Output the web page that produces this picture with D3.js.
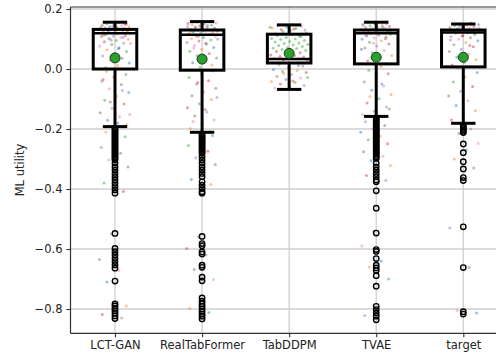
<!DOCTYPE html>
<html><head><meta charset="utf-8">
<script src="https://cdn.jsdelivr.net/npm/d3@7"></script>
<style>
html,body{margin:0;padding:0;background:#fff;}
svg{display:block;font-family:"DejaVu Sans",sans-serif;}
</style></head>
<body><svg id="chart" width="496" height="358"></svg>
<script>
// ---- data ----
const categories = ["LCT-GAN", "RealTabFormer", "TabDDPM", "TVAE", "target"];
const yTicks = [0.2, 0.0, -0.2, -0.4, -0.6, -0.8];
const yLabel = "ML utility";

// box statistics
const q1      = [0.000, -0.004, 0.020, 0.017, 0.007];
const median  = [0.119, 0.114, 0.033, 0.119, 0.122];
const q3      = [0.132, 0.130, 0.116, 0.130, 0.130];
const whiskLo = [-0.192, -0.211, -0.068, -0.158, -0.181];
const whiskHi = [0.156, 0.158, 0.147, 0.156, 0.150];
const means   = [0.037, 0.033, 0.052, 0.039, 0.039];

// outliers (open circles)
const fliersLCTGAN = [-0.198,-0.203,-0.208,-0.213,-0.218,-0.223,-0.228,-0.233,-0.238,-0.243,-0.248,-0.253,-0.258,-0.263,-0.268,-0.273,-0.278,-0.283,-0.288,-0.293,-0.298,-0.303,
  -0.314,-0.326,-0.337,-0.348,-0.359,-0.370,-0.381,-0.392,-0.403,-0.414,
  -0.548,-0.598,-0.609,-0.620,-0.631,-0.642,-0.653,-0.664,-0.707,-0.783,-0.790,-0.798,-0.806,-0.814,-0.823,-0.832];
const fliersRealTabFormer = [-0.216,-0.221,-0.226,-0.231,-0.236,-0.241,-0.246,-0.251,-0.256,-0.261,-0.266,-0.271,-0.276,-0.281,
  -0.292,-0.303,-0.314,-0.326,-0.337,-0.348,-0.359,-0.376,-0.387,-0.398,-0.409,-0.414,
  -0.558,-0.582,-0.589,-0.610,-0.617,-0.654,-0.661,-0.694,-0.706,-0.763,-0.774,-0.783,-0.791,-0.800,-0.808,-0.817,-0.824,-0.833];
const fliersTabDDPM = [];
const fliersTVAE = [-0.163,-0.168,-0.173,-0.178,-0.183,-0.188,-0.193,-0.198,-0.203,-0.208,-0.213,-0.218,-0.223,-0.228,-0.233,-0.238,-0.243,-0.248,-0.253,-0.258,-0.263,-0.268,-0.273,-0.278,-0.283,-0.288,-0.293,-0.298,
  -0.314,-0.326,-0.337,-0.348,-0.359,-0.370,-0.376,-0.406,-0.464,
  -0.547,-0.602,-0.608,-0.632,-0.654,-0.663,-0.672,-0.689,-0.724,-0.791,-0.802,-0.813,-0.824,-0.836];
const fliersTarget = [-0.188,-0.193,-0.198,-0.203,-0.208,-0.212,-0.250,-0.279,-0.309,-0.333,-0.362,-0.372,-0.526,-0.662,-0.809,-0.817];

// individual results (small coloured dots)
const dotsLCTGAN = [0.155,0.151,0.149,0.147,0.146,0.144,0.142,0.141,0.139,0.137,0.136,0.134,0.133,0.131,0.129,0.128,0.126,0.124,0.122,0.121,0.119,0.117,0.115,0.112,0.110,0.108,0.105,0.102,0.099,0.095,0.091,0.087,0.082,0.076,0.071,0.064,0.058,0.051,0.043,0.036,0.028,0.020,0.012,0.004,
  0.150,0.143,0.138,0.132,0.127,0.123,0.118,0.113,0.106,0.097,0.085,0.068,
  -0.008,-0.018,-0.027,-0.041,-0.052,-0.066,-0.078,-0.091,-0.104,-0.117,-0.131,-0.146,-0.159,-0.171,-0.186,-0.197,
  -0.035,-0.072,-0.110,-0.152,-0.180,
  -0.210,-0.226,-0.243,-0.262,-0.281,-0.303,-0.327,-0.352,-0.380,-0.408,-0.550,-0.635,-0.672,-0.710,-0.790,-0.804,-0.818,-0.830];
const dotsRealTabFormer = [0.157,0.153,0.150,0.148,0.146,0.143,0.141,0.139,0.138,0.136,0.134,0.132,0.130,0.128,0.127,0.125,0.123,0.121,0.119,0.117,0.114,0.111,0.108,0.105,0.101,0.097,0.093,0.088,0.083,0.078,0.072,0.066,0.059,0.052,0.045,0.037,0.029,0.021,0.013,0.005,
  0.152,0.145,0.140,0.135,0.129,0.124,0.116,0.109,0.099,0.086,0.070,
  -0.006,-0.016,-0.028,-0.039,-0.051,-0.064,-0.077,-0.089,-0.102,-0.116,-0.129,-0.143,-0.157,-0.170,-0.184,-0.198,-0.209,
  -0.045,-0.095,-0.135,-0.175,
  -0.222,-0.238,-0.255,-0.274,-0.296,-0.318,-0.343,-0.368,-0.385,-0.560,-0.598,-0.620,-0.668,-0.702,-0.772,-0.798,-0.812];
const dotsTabDDPMgreen = [0.125,0.120,0.115,0.112,0.108,0.105,0.102,0.100,0.098,0.095,0.092,0.090,0.087,0.085,0.082,0.080,0.078,0.075,0.072,0.070,0.068,0.065,0.062,0.060];
const dotsTabDDPMred = [0.058,0.054,0.050,0.047,0.045,0.042,0.040,0.038,0.035,0.033,0.030,0.027];
const dotsTabDDPMmixed = [0.148,0.145,0.142,0.140,0.137,0.135,0.132,0.130,0.128,0.118,0.110,0.146,0.139,0.133];
const dotsTabDDPMlow = [0.015,0.010,0.005,-0.002,-0.005,-0.008,-0.012,-0.018,-0.025,-0.030,-0.035,-0.042,-0.045,-0.050,-0.055,-0.060,-0.063,0.012,-0.015,-0.028,-0.040];
const dotsTVAE = [0.156,0.152,0.150,0.148,0.146,0.144,0.142,0.140,0.138,0.136,0.134,0.132,0.130,0.128,0.126,0.124,0.122,0.120,0.118,0.116,0.113,0.110,0.107,0.103,0.099,0.094,0.089,0.083,0.077,0.070,0.062,0.054,0.045,0.036,0.027,0.018,
  0.151,0.145,0.139,0.133,0.127,0.121,0.112,0.101,0.086,0.066,
  0.008,-0.004,-0.016,-0.029,-0.043,-0.057,-0.071,-0.085,-0.099,-0.113,-0.127,-0.141,-0.152,
  -0.050,-0.092,-0.133,
  -0.165,-0.176,-0.188,-0.199,-0.211,-0.223,-0.236,-0.249,-0.262,-0.276,-0.291,-0.306,-0.322,-0.338,-0.355,-0.372,
  -0.540,-0.590,-0.640,-0.660,-0.700,-0.800,-0.822];
const dotsTarget = [0.153,0.150,0.148,0.146,0.144,0.142,0.140,0.138,0.136,0.134,0.132,0.130,0.128,0.126,0.124,0.122,0.120,0.118,0.115,0.112,0.108,0.104,0.099,0.094,0.088,0.081,0.074,0.066,0.058,0.049,0.040,0.031,0.022,0.013,
  0.149,0.143,0.137,0.131,0.125,0.119,0.110,0.097,0.078,
  0.002,-0.012,-0.027,-0.043,-0.058,-0.074,-0.090,-0.106,-0.122,-0.138,-0.154,-0.170,
  -0.200,-0.215,-0.248,-0.270,-0.300,-0.330,-0.362,-0.530,-0.662,-0.805,-0.813,-0.820];

const fliers = [fliersLCTGAN, fliersRealTabFormer, fliersTabDDPM, fliersTVAE, fliersTarget];
const tab10 = ["#1f77b4","#ff7f0e","#2ca02c","#d62728","#9467bd","#8c564b","#e377c2","#7f7f7f","#bcbd22","#17becf"];

// dot groups: [categoryIndex, values, colour or null (cycle)]
const dotGroups = [
  [0, dotsLCTGAN, null],
  [1, dotsRealTabFormer, null],
  [2, dotsTabDDPMgreen, "#2ca02c"],
  [2, dotsTabDDPMred, "#d62728"],
  [2, dotsTabDDPMmixed, null],
  [2, dotsTabDDPMlow, null],
  [3, dotsTVAE, null],
  [4, dotsTarget, null]
];

// ---- layout ----
const svg = d3.select("#chart");
const plot = {left: 70.5, top: 7, bottom: 333.3, right: 520};
const x = d3.scaleLinear().domain([1, 5]).range([115, 463.3]);
const y = d3.scaleLinear().domain([-0.8, 0.2]).range([309, 9]);
const unit = x(2) - x(1);
const boxW = 0.5 * unit, capW = 0.28 * unit;
const fontSize = 11.5;

// grid
const grid = svg.append("g");
grid.selectAll("line.h").data(yTicks).join("line")
  .attr("x1", plot.left).attr("x2", plot.right)
  .attr("y1", d => y(d)).attr("y2", d => y(d))
  .attr("stroke", "#cfcfcf").attr("stroke-width", 1.3);
grid.selectAll("line.v").data(categories).join("line")
  .attr("x1", (d, i) => x(i + 1)).attr("x2", (d, i) => x(i + 1))
  .attr("y1", plot.top).attr("y2", plot.bottom)
  .attr("stroke", "#cfcfcf").attr("stroke-width", 1.3);

// dots
const dotLayer = svg.append("g");
let k = 0;
dotGroups.forEach(([ci, vals, col]) => {
  const spread = ci === 2 ? 0.22 : 0.18;
  vals.forEach((v, i) => {
    k++;
    const frac = ((k * 0.6180339887) % 1) - 0.5;
    dotLayer.append("circle")
      .attr("cx", x(ci + 1 + frac * 2 * spread))
      .attr("cy", y(v))
      .attr("r", 1.5)
      .attr("fill", col || tab10[k % 7])
      .attr("opacity", 0.45);
  });
});

// boxes
const boxes = svg.append("g");
categories.forEach((c, i) => {
  const cx = x(i + 1);
  const g = boxes.append("g");
  g.append("line").attr("x1", cx).attr("x2", cx).attr("y1", y(q1[i])).attr("y2", y(whiskLo[i]))
    .attr("stroke", "#000").attr("stroke-width", 3);
  g.append("line").attr("x1", cx).attr("x2", cx).attr("y1", y(q3[i])).attr("y2", y(whiskHi[i]))
    .attr("stroke", "#000").attr("stroke-width", 3);
  [whiskLo[i], whiskHi[i]].forEach(v => {
    g.append("line").attr("x1", cx - capW / 2).attr("x2", cx + capW / 2)
      .attr("y1", y(v)).attr("y2", y(v)).attr("stroke", "#000").attr("stroke-width", 3);
  });
  g.append("rect").attr("x", cx - boxW / 2).attr("width", boxW)
    .attr("y", y(q3[i])).attr("height", y(q1[i]) - y(q3[i]))
    .attr("fill", "none").attr("stroke", "#000").attr("stroke-width", 3);
  g.append("line").attr("x1", cx - boxW / 2).attr("x2", cx + boxW / 2)
    .attr("y1", y(median[i])).attr("y2", y(median[i]))
    .attr("stroke", "#000").attr("stroke-width", 2.5);
  g.selectAll("circle.fl").data(fliers[i]).join("circle")
    .attr("cx", cx).attr("cy", d => y(d)).attr("r", 2.7)
    .attr("fill", "none").attr("stroke", "#000").attr("stroke-width", 1.4);
  g.append("circle").attr("cx", cx).attr("cy", y(means[i])).attr("r", 5)
    .attr("fill", "#2ca02c").attr("stroke", "#1b3d1b").attr("stroke-width", 1);
});

// spines
svg.append("line").attr("x1", plot.left).attr("x2", plot.left).attr("y1", plot.top).attr("y2", plot.bottom)
  .attr("stroke", "#333").attr("stroke-width", 1.2);
svg.append("line").attr("x1", plot.left).attr("x2", plot.right).attr("y1", plot.bottom).attr("y2", plot.bottom)
  .attr("stroke", "#333").attr("stroke-width", 1.2);
svg.append("line").attr("x1", plot.left).attr("x2", plot.right).attr("y1", plot.top).attr("y2", plot.top)
  .attr("stroke", "#333").attr("stroke-width", 1.2);

// axes
const yAxis = svg.append("g").attr("transform", `translate(${plot.left},0)`)
  .call(d3.axisLeft(y).tickValues(yTicks).tickFormat(d3.format(".1f")).tickSize(4).tickPadding(4));
const xAxis = svg.append("g").attr("transform", `translate(0,${plot.bottom})`)
  .call(d3.axisBottom(x).tickValues([1, 2, 3, 4, 5]).tickFormat(d => categories[d - 1]).tickSize(4).tickPadding(4));
[yAxis, xAxis].forEach(a => {
  a.select(".domain").remove();
  a.selectAll("line").attr("stroke", "#333").attr("stroke-width", 1.1);
  a.selectAll("text").attr("font-family", "DejaVu Sans").attr("font-size", fontSize).attr("fill", "#222");
});

svg.append("text").attr("transform", "translate(20,170) rotate(-90)")
  .attr("text-anchor", "middle").attr("dominant-baseline", "middle")
  .attr("font-family", "DejaVu Sans").attr("font-size", fontSize).attr("fill", "#222")
  .text(yLabel);
</script></body></html>
